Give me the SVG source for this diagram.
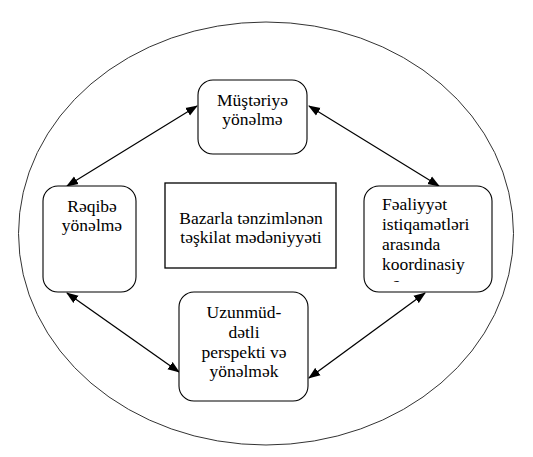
<svg xmlns="http://www.w3.org/2000/svg" width="533" height="457" viewBox="0 0 533 457">
<style>
.box{fill:#fff;stroke:#000;stroke-width:1.1}
.t{font-family:'Liberation Serif','Tinos','DejaVu Serif',serif;font-size:17.5px;fill:#000}
.c{text-anchor:middle}
.conn line{stroke:#000;stroke-width:1.3;marker-start:url(#ah);marker-end:url(#ah)}
</style>
<defs>
<marker id="ah" markerUnits="userSpaceOnUse" markerWidth="12" markerHeight="10" refX="11" refY="4.5" orient="auto-start-reverse" viewBox="0 0 12 9">
<path d="M0,0 L12,4.5 L0,9 z" fill="#000"/>
</marker>
<clipPath id="clipR"><rect x="364" y="186" width="128" height="96"/></clipPath>
</defs>
<rect width="533" height="457" fill="#fff"/>
<ellipse id="outer" cx="266" cy="233.5" rx="247.5" ry="211.5" fill="none" stroke="#333" stroke-width="1"/>
<g class="conn" id="connectors">
<line x1="197" y1="106" x2="67" y2="186"/>
<line x1="309" y1="106" x2="439" y2="186"/>
<line x1="67" y1="293" x2="179" y2="372"/>
<line x1="425" y1="293" x2="309" y2="378"/>
</g>
<g id="node-top">
<rect class="box" x="198" y="80" width="109" height="74" rx="15"/>
<text class="t c" font-family="Liberation Serif, serif" x="252.5" y="105.5">Müştəriyə</text>
<text class="t c" font-family="Liberation Serif, serif" x="252.5" y="125">yönəlmə</text>
</g>
<g id="node-left">
<rect class="box" x="43" y="186" width="93" height="106" rx="15"/>
<text class="t c" font-family="Liberation Serif, serif" x="92" y="212">Rəqibə</text>
<text class="t c" font-family="Liberation Serif, serif" x="92" y="231">yönəlmə</text>
</g>
<g id="node-right">
<rect class="box" x="364" y="186" width="128" height="106" rx="15"/>
<g clip-path="url(#clipR)">
<text class="t" font-family="Liberation Serif, serif" x="382" y="210">Fəaliyyət</text>
<text class="t" font-family="Liberation Serif, serif" x="382" y="230">istiqamətləri</text>
<text class="t" font-family="Liberation Serif, serif" x="382" y="250">arasında</text>
<text class="t" font-family="Liberation Serif, serif" x="382" y="269.5">koordinasiy</text>
<text class="t" font-family="Liberation Serif, serif" x="393" y="289">ə</text>
</g>
</g>
<g id="node-bottom">
<rect class="box" x="179" y="292" width="129" height="109" rx="15"/>
<text class="t c" font-family="Liberation Serif, serif" x="244" y="318">Uzunmüd-</text>
<text class="t c" font-family="Liberation Serif, serif" x="244" y="338">dətli</text>
<text class="t c" font-family="Liberation Serif, serif" x="244" y="357.5">perspekti və</text>
<text class="t c" font-family="Liberation Serif, serif" x="244" y="377">yönəlmək</text>
</g>
<g id="node-center">
<rect x="165" y="183" width="171" height="85" fill="#fff" stroke="#000" stroke-width="1.3"/>
<text class="t c" font-family="Liberation Serif, serif" x="251" y="224">Bazarla tənzimlənən</text>
<text class="t c" font-family="Liberation Serif, serif" x="251" y="242.5">təşkilat mədəniyyəti</text>
</g>
</svg>
